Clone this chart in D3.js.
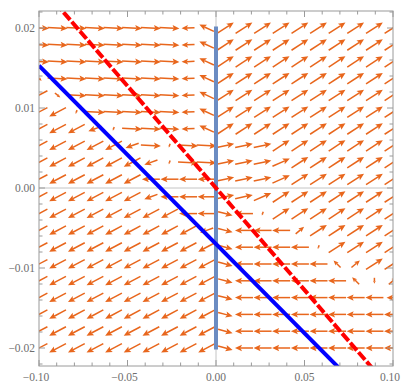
<!DOCTYPE html>
<html><head><meta charset="utf-8">
<script src="https://cdn.jsdelivr.net/npm/d3@7"></script>
<style>body{margin:0;background:#fff;} svg{display:block;}</style>
</head><body>
<svg id="chart" width="401" height="383"></svg>
<script>
// ---- data ----
const xDomain = [-0.1, 0.1];
const yDomain = [-0.02225, 0.022125];
const xTicks = [-0.10, -0.05, 0.00, 0.05, 0.10];
const xTickLabels = ["\u22120.10", "\u22120.05", "0.00", "0.05", "0.10"];
const yTicks = [-0.02, -0.01, 0.00, 0.01, 0.02];
const yTickLabels = ["\u22120.02", "\u22120.01", "0.00", "0.01", "0.02"];
const gridX = [-0.1, -0.0895, -0.0789, -0.0684, -0.0579, -0.0474, -0.0368, -0.0263, -0.0158, -0.0053,
               0.0053, 0.0158, 0.0263, 0.0368, 0.0474, 0.0579, 0.0684, 0.0789, 0.0895, 0.1];
const gridY = [0.02, 0.0179, 0.0158, 0.0137, 0.0116, 0.0095, 0.0074, 0.0053, 0.0032, 0.0011,
               -0.0011, -0.0032, -0.0053, -0.0074, -0.0095, -0.0116, -0.0137, -0.0158, -0.0179, -0.02];
// arrow kinds: [screen angle in degrees (counter-clockwise), relative magnitude]
const arrowKinds = {
  R: [-3, 1.0], r: [-12, 0.8], U: [33, 1.0], u: [40, 0.55], H: [12, 0.9], h: [24, 0.95],
  D: [208, 0.95], d: [200, 0.7], L: [180, 0.9], l: [182, 0.65], s: [250, 0.2],
  Q: [155, 0.8], E: [-15, 0.75], N: [135, 0.5], V: [270, 0.3], T: [-40, 0.35]
};
const fieldRows = [
  "RRRRRRRRlQUUUUUUUUUU",
  "RRRRRRRRlQUUUUUUUUUU",
  "RRRRRRRRlQUUUUUUUUUU",
  "TRRRRRRRlQUUUUUUUUUU",
  "DTRRRRRRlQUUUUUUUUUU",
  "DDsRRRRRlQUUUUUUUUUU",
  "DDDdsRRRlQUUUUUUUUUU",
  "DDDDDdRsRRHHHUUUUUUU",
  "DDDDDDdsRRHHHhUUUUUU",
  "DDDDDDLLLLHHHhUUUUUU",
  "DDDDDDdLLLHHhUUUUUUU",
  "DDDDDDDDLLELsUUUUUUU",
  "DDDDDDDDDdELLLuUUUUU",
  "DDDDDDDDDDELLLLsUUUU",
  "DDDDDDDDDDELLLLLNuUU",
  "DDDDDDDDDDELLLLLLNVu",
  "DDDDDDDDDDELLLLLLLLl",
  "DDDDDDDDDDELLLLLLLLL",
  "DDDDDDDDDDELLLLLLLLL",
  "DDDDDDDDDDELLLLLLLLL"
];
const redLineX = [-0.1, 0.1];
const redLineY = [0.0255, -0.0255];
const blueLineX = [-0.1, 0.1];
const blueLineY = [0.0153, -0.0293];
const switchLineX = [0, 0];
const switchLineY = [-0.0202, 0.0202];

// ---- layout ----
const svg = d3.select("#chart");
const L = 39, Rr = 393, T = 11, B = 366;
const x = d3.scaleLinear().domain(xDomain).range([L, Rr]);
const y = d3.scaleLinear().domain(yDomain).range([B, T]);
const len = d3.scaleLinear().domain([0, 1]).range([0, 20]);

svg.append("defs").append("clipPath").attr("id", "clip")
  .append("rect").attr("x", L).attr("y", T).attr("width", Rr - L).attr("height", B - T);

const plot = svg.append("g").attr("clip-path", "url(#clip)");

// axes through origin
plot.append("line").attr("x1", L).attr("x2", Rr).attr("y1", y(0)).attr("y2", y(0))
  .attr("stroke", "#c4c4c4").attr("stroke-width", 1);
plot.append("line").attr("x1", x(0)).attr("x2", x(0)).attr("y1", T).attr("y2", B)
  .attr("stroke", "#c4c4c4").attr("stroke-width", 1);

// arrows
const arrows = [];
fieldRows.forEach((row, j) => {
  row.split("").forEach((c, i) => {
    const k = arrowKinds[c];
    arrows.push({ x: gridX[i], y: gridY[j], ang: k[0], mag: k[1] });
  });
});
const arrowColor = "#e8661c";
const ag = plot.append("g");
arrows.forEach(a => {
  const cx = x(a.x), cy = y(a.y);
  const l = len(a.mag);
  const t = a.ang * Math.PI / 180;
  const dx = Math.cos(t), dy = -Math.sin(t);
  const x0 = cx - dx * l / 2, y0 = cy - dy * l / 2;
  const x1 = cx + dx * l / 2, y1 = cy + dy * l / 2;
  const h = Math.min(7, l * 0.5), w = h * 0.45;
  const bx = x1 - dx * h * 0.8, by = y1 - dy * h * 0.8;
  const hx = x1 - dx * h, hy = y1 - dy * h;
  ag.append("line").attr("x1", x0).attr("y1", y0).attr("x2", bx).attr("y2", by)
    .attr("stroke", arrowColor).attr("stroke-width", 1.5);
  ag.append("path")
    .attr("d", `M${x1},${y1}L${hx - dy * w},${hy + dx * w}L${bx},${by}L${hx + dy * w},${hy - dx * w}Z`)
    .attr("fill", arrowColor);
});

// lines
const line = d3.line().x(d => x(d[0])).y(d => y(d[1]));
plot.append("path").attr("d", line(d3.zip(switchLineX, switchLineY)))
  .attr("stroke", "#6b8cc2").attr("stroke-width", 4).attr("fill", "none");
plot.append("path").attr("d", line(d3.zip(redLineX, redLineY)))
  .attr("stroke", "#ff0000").attr("stroke-width", 4).attr("fill", "none")
  .attr("stroke-dasharray", "10,2.5");
plot.append("path").attr("d", line(d3.zip(blueLineX, blueLineY)))
  .attr("stroke", "#0000ff").attr("stroke-width", 4).attr("fill", "none");

// frame
const frameColor = "#9a9a9a";
svg.append("rect").attr("x", L).attr("y", T).attr("width", Rr - L).attr("height", B - T)
  .attr("fill", "none").attr("stroke", frameColor).attr("stroke-width", 1);

// ticks
const xMinor = d3.range(-0.1, 0.1001, 0.01);
const yMinor = d3.range(-0.022, 0.0221, 0.002);
const tg = svg.append("g").attr("stroke", frameColor).attr("stroke-width", 1);
xMinor.forEach(v => {
  const major = xTicks.some(t => Math.abs(t - v) < 1e-6);
  const s = major ? 6 : 3.5;
  tg.append("line").attr("x1", x(v)).attr("x2", x(v)).attr("y1", B).attr("y2", B - s);
  tg.append("line").attr("x1", x(v)).attr("x2", x(v)).attr("y1", T).attr("y2", T + s);
});
yMinor.forEach(v => {
  const major = yTicks.some(t => Math.abs(t - v) < 1e-6);
  const s = major ? 6 : 3.5;
  tg.append("line").attr("x1", L).attr("x2", L + s).attr("y1", y(v)).attr("y2", y(v));
  tg.append("line").attr("x1", Rr).attr("x2", Rr - s).attr("y1", y(v)).attr("y2", y(v));
});

const fontFam = "'Liberation Serif', 'DejaVu Serif', serif";
xTicks.forEach((v, i) => {
  const last = i === xTicks.length - 1;
  svg.append("text").attr("x", last ? 400 : x(v) + (v < 0 ? -3 : 0)).attr("y", B + 15)
    .attr("text-anchor", last ? "end" : "middle").attr("font-family", fontFam).attr("font-size", 11.5)
    .attr("fill", "#6e6e6e").text(xTickLabels[i]);
});
yTicks.forEach((v, i) => {
  svg.append("text").attr("x", L - 4).attr("y", y(v) + 4)
    .attr("text-anchor", "end").attr("font-family", fontFam).attr("font-size", 11.5)
    .attr("fill", "#6e6e6e").text(yTickLabels[i]);
});
</script>
</body></html>
